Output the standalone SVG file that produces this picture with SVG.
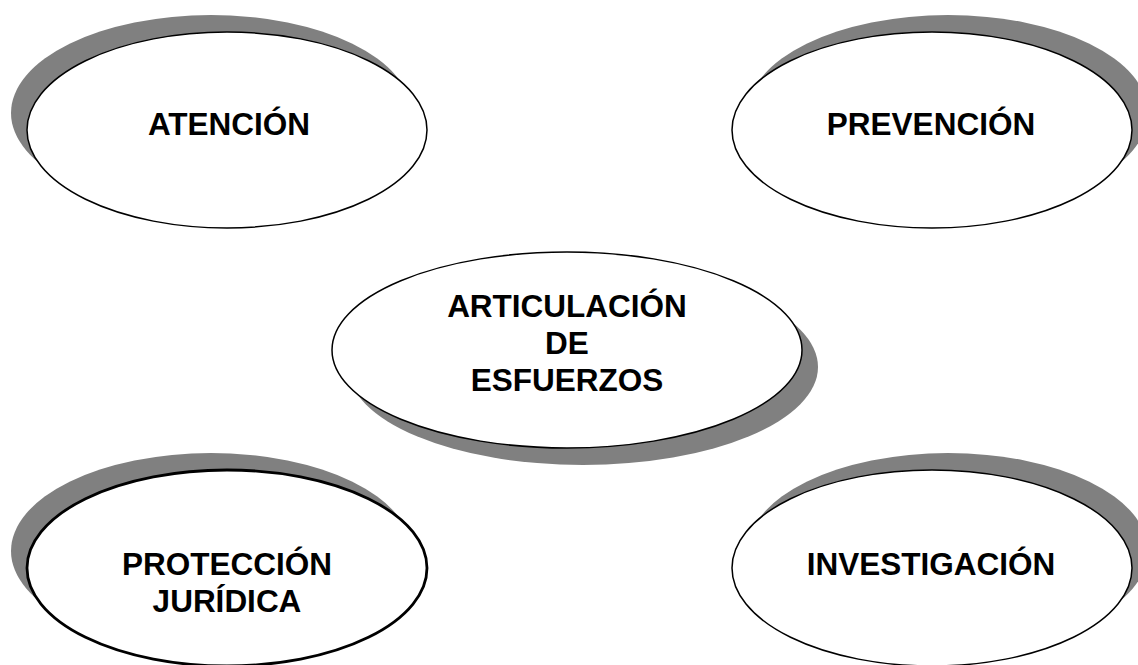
<svg xmlns="http://www.w3.org/2000/svg" width="1138" height="665" viewBox="0 0 1138 665">
<style>
.bg{fill:#ffffff}
.sh{fill:#808080;stroke:none}
.el{fill:#ffffff;stroke:#000000;stroke-width:1.5}
.thick{stroke-width:2.8}
.lbl{font-family:"Liberation Sans",Arial,sans-serif;font-weight:bold;font-size:31.5px;fill:#000000;text-anchor:middle}
</style>
<rect class="bg" x="0" y="0" width="1138" height="665"/>
<g id="connectors"></g>
<g id="atencion">
<ellipse class="sh" cx="211" cy="113" rx="200" ry="98"/>
<ellipse class="el" cx="227" cy="130" rx="200" ry="98"/>
<text class="lbl" x="229" y="135">ATENCIÓN</text>
</g>
<g id="prevencion">
<ellipse class="sh" cx="948" cy="113" rx="200" ry="98"/>
<ellipse class="el" cx="932" cy="130" rx="200" ry="98"/>
<text class="lbl" x="931" y="135">PREVENCIÓN</text>
</g>
<g id="articulacion">
<ellipse class="sh" cx="583" cy="367" rx="235" ry="98"/>
<ellipse class="el" cx="567" cy="350" rx="235" ry="98"/>
<text class="lbl" x="567" y="317">ARTICULACIÓN</text>
<text class="lbl" x="567" y="354">DE</text>
<text class="lbl" x="567" y="391">ESFUERZOS</text>
</g>
<g id="proteccion">
<ellipse class="sh" cx="211" cy="551" rx="200" ry="98"/>
<ellipse class="el thick" cx="227" cy="568" rx="200" ry="98"/>
<text class="lbl" x="227" y="575">PROTECCIÓN</text>
<text class="lbl" x="227" y="612">JURÍDICA</text>
</g>
<g id="investigacion">
<ellipse class="sh" cx="948" cy="551" rx="200" ry="98"/>
<ellipse class="el" cx="932" cy="568" rx="200" ry="98"/>
<text class="lbl" x="931" y="575">INVESTIGACIÓN</text>
</g>
</svg>
